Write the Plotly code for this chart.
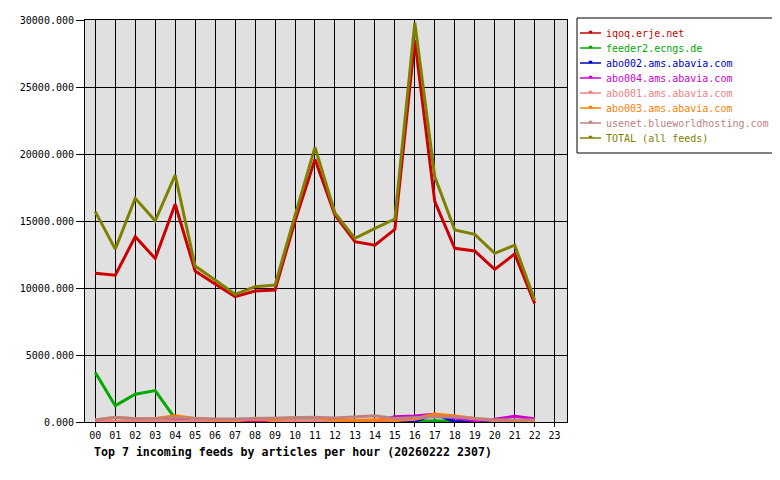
import plotly.graph_objects as go

hours = list(range(23))
tick_labels = ["%02d" % h for h in range(24)]

iqoq = [11100, 10950, 13830, 12200, 16250, 11270, 10300, 9350, 9780, 9850, 15000, 19600,
        15450, 13460, 13200, 14380, 28500, 16450, 12960, 12760, 11390, 12540, 8850]
feeder2 = [3700, 1220, 2070, 2340, 250, 20, 20, 20, 20, 20, 80, 80, 20, 20, 100, 40, 40,
           100, 40, 20, 0, 0, 0]
abo002 = [0, 0, 0, 0, 0, 0, 0, 0, 0, 0, 0, 0, 0, 0, 0, 20, 60, 580, 40, 0, 0, 0, 0]
abo004 = [30, 30, 30, 30, 120, 30, 30, 30, 30, 30, 30, 30, 30, 30, 50, 400, 450, 570, 300,
          100, 200, 430, 250]
abo001 = [50, 80, 60, 60, 80, 60, 60, 60, 300, 60, 80, 100, 80, 100, 150, 120, 200, 500,
          450, 250, 100, 60, 50]
abo003 = [150, 330, 240, 270, 470, 270, 180, 180, 180, 180, 330, 330, 150, 100, 150, 150,
          250, 600, 450, 270, 150, 100, 130]
usenet = [150, 350, 250, 250, 320, 250, 230, 230, 260, 250, 320, 350, 300, 400, 470, 270,
          320, 400, 370, 270, 150, 150, 150]
total = [15700, 12900, 16700, 15020, 18430, 11640, 10600, 9530, 10100, 10220, 15400, 20500,
         15600, 13700, 14450, 15150, 29800, 18300, 14330, 14000, 12590, 13200, 9100]

series = [
    ("iqoq.erje.net", iqoq, "#cc0000"),
    ("feeder2.ecngs.de", feeder2, "#00aa00"),
    ("abo002.ams.abavia.com", abo002, "#0000cc"),
    ("abo004.ams.abavia.com", abo004, "#cc00cc"),
    ("abo001.ams.abavia.com", abo001, "#f08080"),
    ("abo003.ams.abavia.com", abo003, "#ff8000"),
    ("usenet.blueworldhosting.com", usenet, "#c08080"),
    ("TOTAL (all feeds)", total, "#808000"),
]

FONT = "DejaVu Sans Mono"
OFF = 8  # page body margin
W, H = 780 - OFF, 480 - OFF
L, R, T, B = 85 - OFF, 567 - OFF, 20 - OFF, 422 - OFF
PW, PH = R - L, B - T


def px(x):
    return (x - OFF - L) / PW


def py(y):
    return (B - (y - OFF)) / PH


fig = go.Figure()
for name, vals, col in series:
    fig.add_trace(go.Scatter(
        x=hours, y=vals, name=name, mode="lines",
        line=dict(color=col, width=3), showlegend=False,
    ))

shapes = [dict(type="rect", xref="paper", yref="paper",
               x0=px(577), x1=px(773), y0=py(153), y1=py(18),
               fillcolor="white", line=dict(color="black", width=1), layer="above")]
annotations = []
for i, (name, vals, col) in enumerate(series):
    yc = 33 + 15 * i
    shapes.append(dict(type="line", xref="paper", yref="paper",
                       x0=px(580), x1=px(601), y0=py(yc), y1=py(yc),
                       line=dict(color=col, width=1.5), layer="above"))
    shapes.append(dict(type="rect", xref="paper", yref="paper",
                       x0=px(589), x1=px(592), y0=py(yc), y1=py(yc - 2),
                       fillcolor=col, line=dict(color=col, width=0.5), layer="above"))
    annotations.append(dict(
        text=name, xref="paper", yref="paper", x=px(604), y=py(yc),
        xanchor="left", yanchor="middle", showarrow=False,
        font=dict(family=FONT, size=10, color=col),
    ))
annotations.append(dict(
    text="<b>Top 7 incoming feeds by articles per hour (20260222 2307)</b>",
    xref="paper", yref="paper", x=px(92), y=py(452),
    xanchor="left", yanchor="middle", showarrow=False,
    font=dict(family=FONT, size=11.6, color="black"),
))

fig.update_layout(
    width=W, height=H,
    margin=dict(l=L, r=W - R, t=T, b=H - B, autoexpand=False),
    paper_bgcolor="white",
    plot_bgcolor="#e0e0e0",
    font=dict(family=FONT, size=10, color="black"),
    showlegend=False,
    xaxis=dict(
        range=[-0.515, 23.62], tickvals=list(range(24)), ticktext=tick_labels,
        showgrid=True, gridcolor="black", gridwidth=1, zeroline=False,
        showline=True, linecolor="black", linewidth=1, mirror=True,
        ticks="outside", ticklen=4, tickcolor="black",
        tickfont=dict(family=FONT, size=10),
    ),
    yaxis=dict(
        range=[0, 30000], tickvals=[0, 5000, 10000, 15000, 20000, 25000, 30000],
        tickformat=".3f",
        showgrid=True, gridcolor="black", gridwidth=1, zeroline=False,
        showline=True, linecolor="black", linewidth=1, mirror=True,
        ticks="outside", ticklen=8, tickcolor="black",
        tickfont=dict(family=FONT, size=10),
    ),
    shapes=shapes,
    annotations=annotations,
)

fig.write_html("out.html")
